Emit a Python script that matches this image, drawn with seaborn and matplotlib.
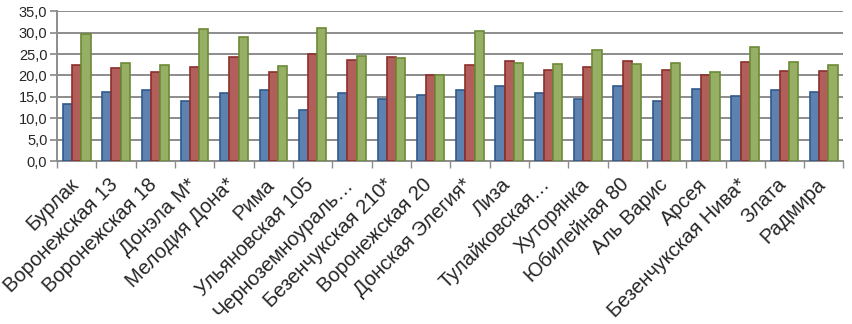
"""Grouped bar chart of three series for wheat varieties."""

import matplotlib.pyplot as plt
import matplotlib.transforms as mtransforms
import seaborn as sns
import pandas as pd
from matplotlib.ticker import FuncFormatter, MultipleLocator, FixedLocator

varieties = [
    "Бурлак", "Воронежская 13", "Воронежская 18", "Донэла М*", "Мелодия Дона*",
    "Рима", "Ульяновская 105", "Черноземноураль…", "Безенчукская 210*",
    "Воронежская 20", "Донская Элегия*", "Лиза", "Тулайковская…", "Хуторянка",
    "Юбилейная 80", "Аль Варис", "Арсея", "Безенчукская Нива*", "Злата", "Радмира",
]
series_1 = [13.4, 16.2, 16.5, 14.1, 15.9, 16.5, 12.0, 15.8, 14.4, 15.5,
            16.5, 17.6, 15.9, 14.4, 17.6, 14.1, 16.9, 15.3, 16.7, 16.2]
series_2 = [22.5, 21.8, 20.8, 22.1, 24.3, 20.8, 25.1, 23.7, 24.3, 20.2,
            22.4, 23.3, 21.2, 22.0, 23.3, 21.4, 20.0, 23.1, 21.1, 21.0]
series_3 = [29.6, 22.9, 22.5, 30.9, 28.9, 22.3, 31.1, 24.5, 24.1, 20.0,
            30.5, 22.9, 22.8, 25.9, 22.7, 22.9, 20.8, 26.7, 23.1, 22.5]
series_names = ["Ряд1", "Ряд2", "Ряд3"]
colors = ["#4F81BD", "#C0504D", "#9BBB59"]
edges = ["#2F5A8C", "#8C2F2D", "#6B8A35"]

df = pd.DataFrame({
    "variety": varieties * 3,
    "value": series_1 + series_2 + series_3,
    "series": [s for s in series_names for _ in varieties],
})

sns.set_theme(style="white")
plt.rcParams["font.family"] = ["Liberation Sans", "DejaVu Sans"]

fig, ax = plt.subplots(figsize=(8.52, 3.24), dpi=100)
fig.subplots_adjust(left=0.067, right=0.99, top=0.965, bottom=0.503)

sns.barplot(data=df, x="variety", y="value", hue="series", order=varieties,
            palette=colors, width=0.7, legend=False, ax=ax, zorder=3)

for container, ec in zip(ax.containers, edges):
    for bar in container:
        bar.set_edgecolor(ec)
        bar.set_linewidth(1.2)

ax.set_ylim(0, 35)
ax.set_xlim(-0.5, len(varieties) - 0.5)
ax.yaxis.set_major_locator(MultipleLocator(5))
ax.yaxis.set_major_formatter(FuncFormatter(lambda v, _: f"{v:.1f}".replace(".", ",")))
ax.yaxis.grid(True, color="#8c8c8c", linewidth=1.4, zorder=0)
ax.set_xlabel("")
ax.set_ylabel("")

ax.tick_params(axis="y", labelsize=10.5, length=5, color="#8c8c8c", left=True, pad=2)
ax.tick_params(axis="x", labelsize=14.5, length=0, pad=10)
ax.xaxis.set_minor_locator(FixedLocator([i - 0.5 for i in range(len(varieties) + 1)]))
ax.tick_params(axis="x", which="minor", bottom=True, length=5, color="#8c8c8c")
shift = mtransforms.ScaledTranslation(-6 / 72, 0, fig.dpi_scale_trans)
for lbl in ax.get_xticklabels():
    lbl.set_rotation(45)
    lbl.set_ha("right")
    lbl.set_rotation_mode("anchor")
    lbl.set_transform(lbl.get_transform() + shift)

for side in ["top", "right"]:
    ax.spines[side].set_visible(False)
for side in ["left", "bottom"]:
    ax.spines[side].set_color("#8c8c8c")
    ax.spines[side].set_linewidth(1.4)

plt.savefig("out.png", dpi=100)
plt.close()
